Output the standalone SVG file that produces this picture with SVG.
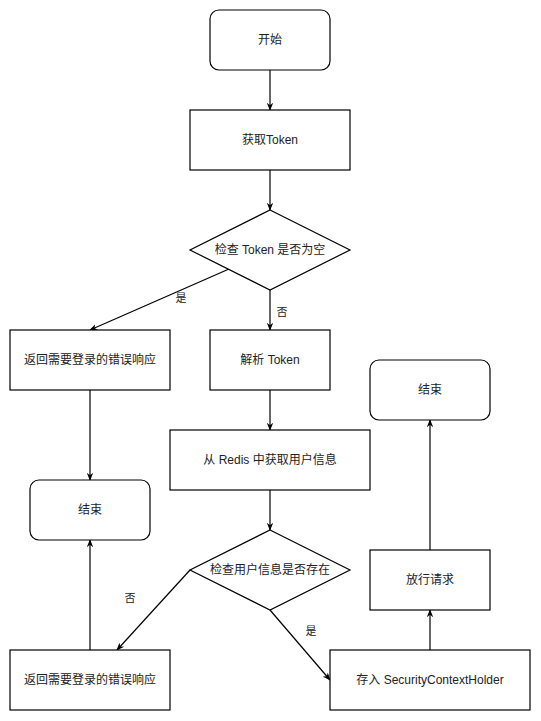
<svg xmlns="http://www.w3.org/2000/svg" width="541" height="721" viewBox="0 0 541 721">
<style>
.n{fill:#fff;stroke:#000;stroke-width:1.2}
.t{font-family:"Liberation Sans","Noto Sans CJK SC",sans-serif;font-size:12px;fill:#222;text-anchor:middle;dominant-baseline:central}
.l{font-family:"Liberation Sans","Noto Sans CJK SC",sans-serif;font-size:11px;fill:#222;text-anchor:middle;dominant-baseline:central}
.e{fill:none;stroke:#000;stroke-width:1.2;marker-end:url(#a)}
</style>
<defs>
<marker id="a" viewBox="0 0 10 10" refX="9" refY="5" markerWidth="8" markerHeight="8" markerUnits="userSpaceOnUse" orient="auto">
<path d="M0,1 L10,5 L0,9 L3,5 z" fill="#000"/>
</marker>
</defs>
<rect width="541" height="721" fill="#fff"/>
<g id="connectors">
<path class="e" d="M270,70 L270,110"/>
<path class="e" d="M270,170 L270,210"/>
<path class="e" d="M229,269 L90,330"/>
<path class="e" d="M270,290 L270,330"/>
<path class="e" d="M90,390 L90,480"/>
<path class="e" d="M270,390 L270,430"/>
<path class="e" d="M270,490 L270,530"/>
<path class="e" d="M190,570 L117,650"/>
<path class="e" d="M270,610 L330,680"/>
<path class="e" d="M90,650 L90,540"/>
<path class="e" d="M430,650 L430,610"/>
<path class="e" d="M430,550 L430,420"/>
<text class="l" x="181" y="298">是</text>
<text class="l" x="282" y="312">否</text>
<text class="l" x="130" y="598">否</text>
<text class="l" x="311" y="631">是</text>
</g>
<g id="start"><rect class="n" x="210" y="10" width="120" height="60" rx="9"/><text class="t" x="270" y="40">开始</text></g>
<g id="getToken"><rect class="n" x="190" y="110" width="160" height="60"/><text class="t" x="270" y="140">获取Token</text></g>
<g id="checkToken"><path class="n" d="M270,210 L350,250 L270,290 L190,250 Z"/><text class="t" x="270" y="250">检查 Token 是否为空</text></g>
<g id="err1"><rect class="n" x="10" y="330" width="160" height="60"/><text class="t" x="90" y="360">返回需要登录的错误响应</text></g>
<g id="parse"><rect class="n" x="210" y="330" width="120" height="60"/><text class="t" x="270" y="360">解析 Token</text></g>
<g id="end1"><rect class="n" x="30" y="480" width="120" height="60" rx="9"/><text class="t" x="90" y="510">结束</text></g>
<g id="redis"><rect class="n" x="170" y="430" width="200" height="60"/><text class="t" x="270" y="460">从 Redis 中获取用户信息</text></g>
<g id="checkUser"><path class="n" d="M270,530 L350,570 L270,610 L190,570 Z"/><text class="t" x="270" y="570">检查用户信息是否存在</text></g>
<g id="err2"><rect class="n" x="10" y="650" width="160" height="60"/><text class="t" x="90" y="680">返回需要登录的错误响应</text></g>
<g id="store"><rect class="n" x="330" y="650" width="200" height="60"/><text class="t" x="430" y="680">存入 SecurityContextHolder</text></g>
<g id="pass"><rect class="n" x="370" y="550" width="120" height="60"/><text class="t" x="430" y="580">放行请求</text></g>
<g id="end2"><rect class="n" x="370" y="360" width="120" height="60" rx="9"/><text class="t" x="430" y="390">结束</text></g>
</svg>
